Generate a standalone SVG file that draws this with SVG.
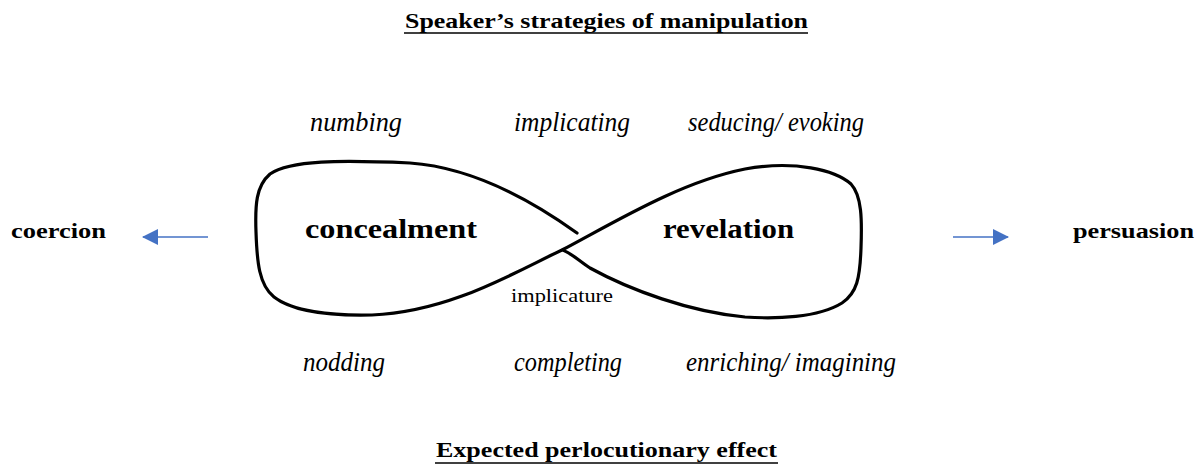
<svg xmlns="http://www.w3.org/2000/svg" width="1204" height="470" viewBox="0 0 1204 470">
<style>
  .t{font-family:"Liberation Serif","Times New Roman",serif;fill:#000}
  .b{font-weight:bold}
  .i{font-style:italic}
  .ul{stroke:#000;stroke-width:1.5}
  .loop{fill:none;stroke:#000;stroke-width:3.2;stroke-linecap:round;stroke-linejoin:round}
  .arr{stroke:#4472C4;stroke-width:1.5;fill:none}
</style>
<defs>
  <marker id="ah" viewBox="0 0 16 16" refX="15" refY="8" markerWidth="16" markerHeight="16" markerUnits="userSpaceOnUse" orient="auto">
    <path d="M0,0 L16,8 L0,16 Z" fill="#4472C4"/>
  </marker>
</defs>
<rect width="1204" height="470" fill="#fff"/>

<g id="title-top">
  <text class="t b" x="405" y="28" font-size="22" textLength="403" lengthAdjust="spacingAndGlyphs">Speaker’s strategies of manipulation</text>
  <line class="ul" x1="404" y1="33" x2="808" y2="33"/>
</g>

<g id="strategies-top">
  <text class="t i" x="310" y="131" font-size="27" textLength="92" lengthAdjust="spacingAndGlyphs">numbing</text>
  <text class="t i" x="514" y="131" font-size="27" textLength="116" lengthAdjust="spacingAndGlyphs">implicating</text>
  <text class="t i" x="688" y="131" font-size="27" textLength="176" lengthAdjust="spacingAndGlyphs">seducing/ evoking</text>
</g>

<g id="infinity-loop">
  <path class="loop" d="M577,233 C545,210 480,168 410,163 C340,160 290,160 270,174 C256,186 255,205 256,232 C257,262 259,285 274,297 C292,311 330,316 372,315 C450,312 515,272 562,250 C615,222 680,182 745,169 C795,160 835,170 851,184 C862,196 862,220 861,248 C860,278 857,293 842,303 C818,318 775,319 745,317 C690,312 630,290 590,268 C578,260 570,252 562,250"/>
</g>

<g id="concealment">
  <text class="t b" x="305" y="238" font-size="27" textLength="172" lengthAdjust="spacingAndGlyphs">concealment</text>
</g>
<g id="revelation">
  <text class="t b" x="663" y="238" font-size="27" textLength="131" lengthAdjust="spacingAndGlyphs">revelation</text>
</g>
<g id="implicature">
  <text class="t" x="511" y="302" font-size="19" textLength="102" lengthAdjust="spacingAndGlyphs">implicature</text>
</g>

<g id="coercion">
  <text class="t b" x="11" y="238" font-size="22" textLength="95" lengthAdjust="spacingAndGlyphs">coercion</text>
</g>
<g id="persuasion">
  <text class="t b" x="1073" y="238" font-size="22" textLength="121" lengthAdjust="spacingAndGlyphs">persuasion</text>
</g>

<g id="connectors">
  <line class="arr" x1="208" y1="237" x2="143" y2="237" marker-end="url(#ah)"/>
  <line class="arr" x1="953" y1="237" x2="1008" y2="237" marker-end="url(#ah)"/>
</g>

<g id="strategies-bottom">
  <text class="t i" x="303" y="371" font-size="27" textLength="82" lengthAdjust="spacingAndGlyphs">nodding</text>
  <text class="t i" x="514" y="371" font-size="27" textLength="108" lengthAdjust="spacingAndGlyphs">completing</text>
  <text class="t i" x="686" y="371" font-size="27" textLength="210" lengthAdjust="spacingAndGlyphs">enriching/ imagining</text>
</g>

<g id="title-bottom">
  <text class="t b" x="436" y="457" font-size="22" textLength="341" lengthAdjust="spacingAndGlyphs">Expected perlocutionary effect</text>
  <line class="ul" x1="435" y1="463" x2="778" y2="463"/>
</g>
</svg>
